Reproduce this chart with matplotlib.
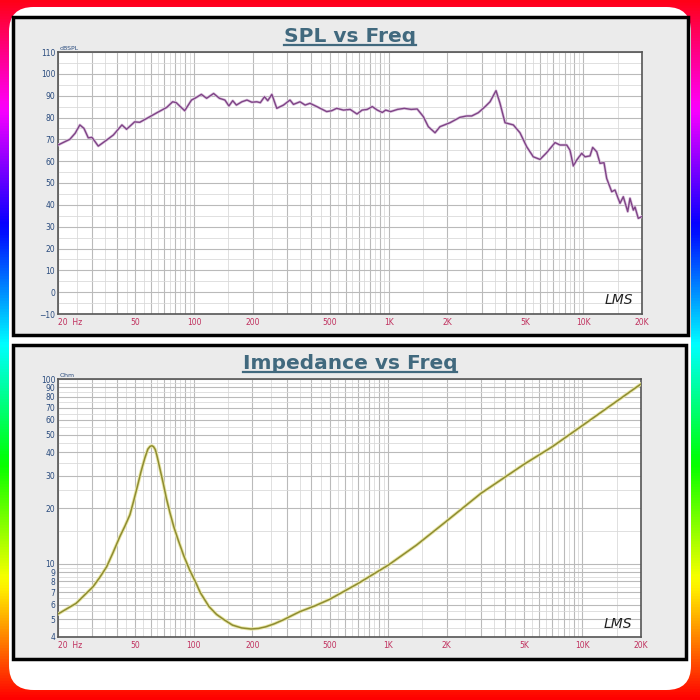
import numpy as np
import matplotlib.pyplot as plt
from matplotlib.patches import FancyBboxPatch, Rectangle
from matplotlib.lines import Line2D
from matplotlib.ticker import NullFormatter, NullLocator

# SPL response (Hz, dB)
spl_freq = [20, 23, 24.5, 25.9, 27.2, 28.6, 29.9, 32.2, 35.6, 38.5, 42.6, 45, 49.5,
            52.6, 57.2, 64.5, 72.3, 77.6, 81, 85, 89.5, 97, 101, 109, 116, 126, 135,
            144, 151, 158, 165, 176, 187, 198, 210, 219, 230, 239, 251, 266, 288,
            311, 324, 350, 372, 394, 427, 480, 509, 540, 585, 634, 687, 730, 775,
            823, 873, 927, 964, 1023, 1109, 1202, 1303, 1400, 1506, 1597, 1729,
            1834, 2063, 2323, 2514, 2668, 2884, 3122, 3314, 3557, 3729, 3957, 4366,
            4724, 5114, 5529, 5984, 6478, 7149, 7582, 8210, 8535, 8875, 9239, 9801,
            10190, 10810, 11160, 11710, 12170, 12760, 13170, 13980, 14530, 15420,
            16030, 16890, 17350, 18050, 18410, 19140, 19930]
spl_db = [67.4, 70, 72.8, 76.6, 75, 70.7, 70.9, 66.9, 69.7, 72, 76.6, 74.6, 78,
          77.8, 79.6, 82.2, 84.6, 87.2, 86.8, 85, 83.1, 88, 88.8, 90.6, 88.8, 91, 88.8,
          88, 85.3, 87.7, 85.7, 87.2, 88, 87, 87.2, 86.8, 89.5, 87.7, 90.6, 84.2, 85.7,
          88, 86, 87.2, 85.7, 86.5, 85, 82.7, 83.1, 84.2, 83.4, 83.7, 81.6, 83.4, 83.7,
          85, 83.4, 82.3, 83.4, 82.7, 83.7, 84.2, 83.7, 83.9, 80.4, 75.8, 73,
          75.8, 77.6, 80.1, 80.7, 80.7, 82.2, 84.9, 87.2, 92.3, 86.5, 77.6, 76.6,
          73, 66.6, 62, 60.8, 63.9, 68.5, 67.4, 67.4, 65, 57.8, 60.5, 63.6,
          62, 62.4, 66.3, 64.3, 59, 59.3, 52.1, 46, 46.8, 40.7,
          43.7, 36.9, 43, 37.6, 39, 33.8, 34.6]

# impedance (Hz, Ohm)
imp_freq = [20, 24.8, 30.3, 32.9, 35.6, 38.3, 41.6, 44.2, 46.9, 49.1, 51.6, 53.4,
            55.9, 58, 59.5, 60.8, 62, 63.3, 64.5, 66.8, 69.6, 72.2, 75.5, 78.9,
            83.1, 88.8, 95.2, 102.3, 108, 119.8, 130.9, 144, 158, 176, 197, 215,
            234, 260, 287, 350, 420, 500, 700, 1000, 1400, 2000, 3000, 5000, 7000,
            10000, 14000, 20000]
imp_ohm = [5.33, 6.09, 7.49, 8.45, 9.61, 11.4, 13.98, 15.96, 18.4, 22.0, 27.0, 31.3,
           37.2, 41.7, 43.1, 43.5, 43, 41.5, 38.7, 32.9, 27.2, 22.6, 18.7, 15.8,
           13.4, 11, 9.22, 7.9, 6.95, 5.84, 5.3, 4.94, 4.64, 4.48, 4.42, 4.45,
           4.54, 4.72, 4.94, 5.48, 5.9, 6.4, 7.8, 9.8, 12.6, 17, 24, 34.5, 43,
           56, 72, 94]

freq_ticks = [20, 50, 100, 200, 500, 1000, 2000, 5000, 10000, 20000]
freq_labels = ['20  Hz', '50', '100', '200', '500', '1K', '2K', '5K', '10K', '20K']
spl_ticks = list(range(-10, 111, 10))
ohm_ticks = [4, 5, 6, 7, 8, 9, 10, 20, 30, 40, 50, 60, 70, 80, 90, 100]

grid_major = [m * 10 ** e for e in range(1, 5) for m in range(1, 10) if 20 <= m * 10 ** e <= 20000]
grid_minor = [(m + 0.5) * 10 ** e for e in range(1, 5) for m in range(1, 10) if 20 < (m + 0.5) * 10 ** e < 20000]

title_col = '#41697e'
ylab_col = '#2b4c7e'
xlab_col = '#c0305e'

fig = plt.figure(figsize=(7, 7), dpi=100)

# rainbow frame + white card
bg = fig.add_axes([0, 0, 1, 1])
bg.imshow(np.linspace(0, 1, 512).reshape(-1, 1), aspect='auto', cmap='hsv',
          origin='lower', extent=[0, 1, 0, 1])
bg.set_xlim(0, 1)
bg.set_ylim(0, 1)
bg.axis('off')
bg.add_patch(FancyBboxPatch((9/700, 10/700), 682/700, 683/700,
                            boxstyle='round,pad=0,rounding_size=0.035',
                            fc='white', ec='none'))
bg.add_patch(Rectangle((13/700, 1 - 335/700), 675/700, 318/700, fc='#ebebeb', ec='black', lw=2.5))
bg.add_patch(Rectangle((13/700, 1 - 659/700), 673/700, 314/700, fc='#ebebeb', ec='black', lw=2.5))


def style_axes(ax, unit):
    ax.set_facecolor('white')
    ax.set_xscale('log')
    ax.set_xlim(20, 20000)
    for f in grid_minor:
        ax.axvline(f, color='#dadada', lw=0.6, zorder=0)
    for f in grid_major:
        ax.axvline(f, color='#bababa', lw=0.8, zorder=0)
    ax.set_xticks(freq_ticks, freq_labels)
    ax.xaxis.set_minor_locator(NullLocator())
    ax.xaxis.set_minor_formatter(NullFormatter())
    ax.tick_params(axis='x', length=0, labelsize=5.5, labelcolor=xlab_col, pad=3)
    ax.tick_params(axis='y', which='both', length=0, labelsize=5.5, labelcolor=ylab_col, pad=2)
    ax.get_xticklabels()[0].set_horizontalalignment('left')
    for s in ax.spines.values():
        s.set_color('#555555')
        s.set_linewidth(1.2)
    ax.text(0.003, 1.004, unit, transform=ax.transAxes, fontsize=4.5,
            color=ylab_col, va='bottom', ha='left')
    ax.text(0.985, 0.025, 'LMS', transform=ax.transAxes, fontsize=10,
            style='italic', color='#222222', ha='right', va='bottom')


# SPL chart
ax1 = fig.add_axes([58/700, 1 - 314/700, 584/700, 262/700])
style_axes(ax1, 'dBSPL')
ax1.set_ylim(-10, 110)
ax1.set_yticks(spl_ticks)
ax1.set_yticks(list(range(-5, 110, 10)), minor=True)
ax1.grid(axis='y', which='major', color='#bababa', lw=0.8, zorder=0)
ax1.grid(axis='y', which='minor', color='#dadada', lw=0.6, zorder=0)
ax1.plot(spl_freq, spl_db, color='#dcc4de', lw=2.0, zorder=3)
ax1.plot(spl_freq, spl_db, color='#7e4486', lw=1.0, zorder=4)

# Impedance chart
ax2 = fig.add_axes([58/700, 1 - 637/700, 583/700, 258/700])
style_axes(ax2, 'Ohm')
ax2.set_yscale('log')
ax2.set_ylim(4, 100)
ax2.set_yticks(ohm_ticks, [str(v) for v in ohm_ticks])
ax2.set_yticks([4.5, 5.5, 6.5, 7.5, 8.5, 9.5, 15, 25, 35, 45, 55, 65, 75, 85, 95], minor=True)
ax2.yaxis.set_minor_formatter(NullFormatter())
ax2.grid(axis='y', which='major', color='#bababa', lw=0.8, zorder=0)
ax2.grid(axis='y', which='minor', color='#dadada', lw=0.6, zorder=0)
ax2.plot(imp_freq, imp_ohm, color='#e8e6a6', lw=2.4, zorder=3)
ax2.plot(imp_freq, imp_ohm, color='#8e8c32', lw=1.1, zorder=4)

# underlined titles
t1 = fig.text(0.5, 1 - 42/700, 'SPL vs Freq', ha='center', va='baseline',
              fontsize=14.5, fontweight='bold', color=title_col)
t2 = fig.text(0.5, 1 - 369/700, 'Impedance vs Freq', ha='center', va='baseline',
              fontsize=14.5, fontweight='bold', color=title_col)
fig.canvas.draw()
for t, yu in ((t1, 45), (t2, 372)):
    bb = t.get_window_extent()
    fig.add_artist(Line2D([bb.x0 / 700, bb.x1 / 700], [1 - yu/700, 1 - yu/700],
                          color=title_col, lw=1.6))

fig.savefig('out.png', dpi=100)
